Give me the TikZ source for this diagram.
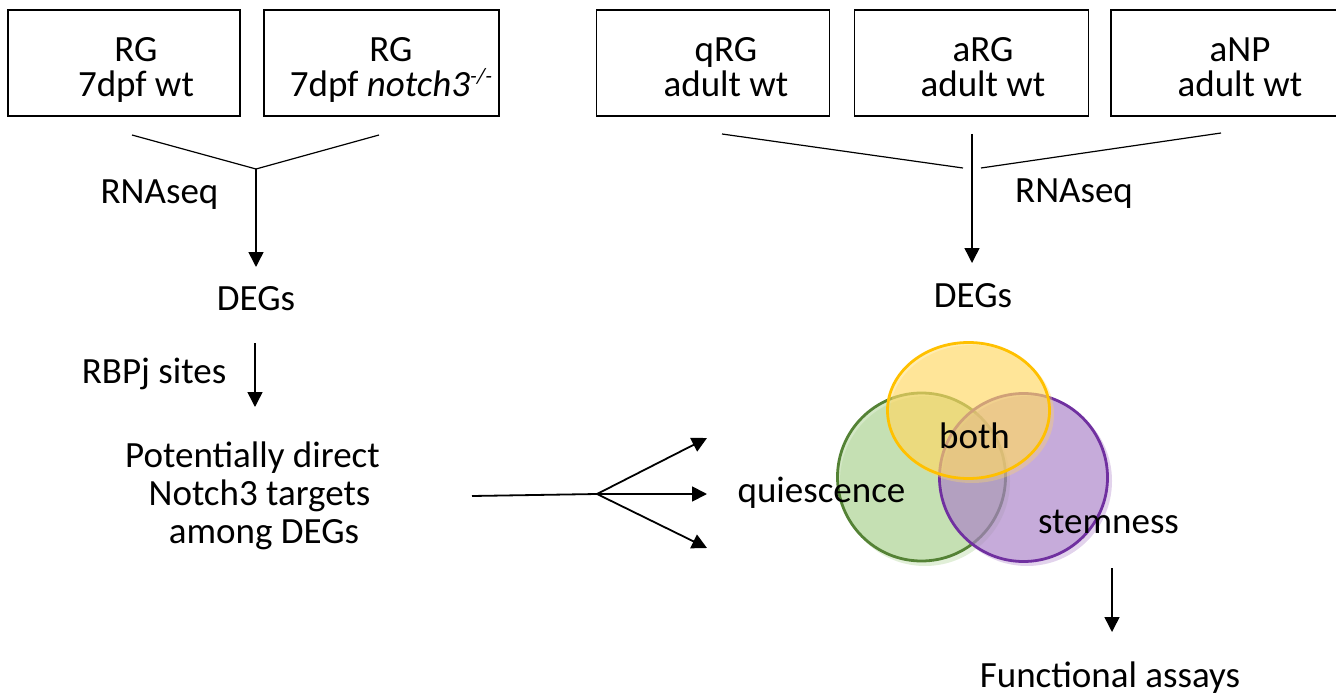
\documentclass[tikz,border=0pt]{standalone}
\usepackage{fontspec}
\setmainfont{Carlito}
\usetikzlibrary{arrows.meta}

\definecolor{vennyellowline}{HTML}{FFC000}
\definecolor{vennyellowfill}{HTML}{FFD966}
\definecolor{venngreenline}{HTML}{548235}
\definecolor{venngreenfill}{HTML}{A9D18E}
\definecolor{vennpurpleline}{HTML}{7030A0}
\definecolor{vennpurplefill}{HTML}{AB82C8}

\tikzset{
  every node/.style={inner sep=0pt, outer sep=0pt},
  txt/.style={anchor=base, font=\fontsize{37}{38}\selectfont},
  boxtxt/.style={anchor=base, align=center, font=\fontsize{37}{35}\selectfont},
  samplebox/.style={draw, line width=1.8pt, minimum width=#1, minimum height=106pt},
  branch/.style={line width=1.2pt},
  flow/.style={line width=1.5pt, -{Triangle[length=15pt,width=15pt]}},
  fan/.style={line width=1.8pt, -{Triangle[length=15pt,width=15pt]}},
  vennset/.style={line width=2.8pt, fill opacity=0.5},
  vennshadow/.style={fill opacity=0.35, draw=none},
}

\begin{document}
\begin{tikzpicture}[x=1pt,y=-1pt]
  \useasboundingbox (0,0) rectangle (1336,698);

  % sample boxes
  \node[samplebox=232pt] (b1) at (124,63) {};
  \node[samplebox=235pt] (b2) at (381.5,63) {};
  \node[samplebox=233pt] (b3) at (713,63) {};
  \node[samplebox=234pt] (b4) at (971.5,63) {};
  \node[samplebox=233pt] (b5) at (1227.5,63) {};

  % two-line labels, anchored on the baseline of the lower line
  \node[boxtxt] (b1t) at (136,97) {RG\\7dpf wt};
  \node[boxtxt] (b2t) at (391,97) {RG\\7dpf \textit{notch3}\raisebox{13pt}{\fontsize{22}{22}\selectfont\textit{-/-}}};
  \node[boxtxt] (b3t) at (726,97) {qRG\\adult wt};
  \node[boxtxt] (b4t) at (983,97) {aRG\\adult wt};
  \node[boxtxt] (b5t) at (1240,97) {aNP\\adult wt};

  % left branch: larval comparison
  \coordinate (lL) at (132,135);
  \coordinate (lJ) at (256,169);
  \coordinate (lR) at (379,135);
  \coordinate (lTip) at (256,267);
  \draw[branch] (lL) -- (lJ) -- (lR);
  \draw[flow] (lJ) -- (lTip);
  \node[txt] (rnaL) at (159.5,203) {RNAseq};
  \node[txt] (degL) at (256,310) {DEGs};

  \coordinate (rbTop) at (255,343);
  \coordinate (rbTip) at (255,407);
  \draw[flow] (rbTop) -- (rbTip);
  \node[txt] (rbpj) at (154,383) {RBPj sites};

  \node[txt] (pot1) at (252.5,467) {Potentially direct};
  \node[txt] (pot2) at (259.5,505) {Notch3 targets};
  \node[txt] (pot3) at (264,543) {among DEGs};

  % fan-out towards the Venn diagram
  \coordinate (f0) at (472,496);
  \coordinate (fJ) at (597,494);
  \coordinate (fUp) at (707,438);
  \coordinate (fMid) at (707,494);
  \coordinate (fLow) at (707,548);
  \draw[line width=1.8pt] (f0) -- (fJ);
  \draw[fan] (fJ) -- (fUp);
  \draw[fan] (fJ) -- (fMid);
  \draw[fan] (fJ) -- (fLow);

  % right branch: adult comparison
  \coordinate (rL) at (722,134);
  \coordinate (rLJ) at (963,168);
  \coordinate (rRJ) at (981,168);
  \coordinate (rR) at (1221,133);
  \coordinate (rTop) at (972,134);
  \coordinate (rTip) at (972,263);
  \draw[branch] (rL) -- (rLJ);
  \draw[branch] (rRJ) -- (rR);
  \draw[flow] (rTop) -- (rTip);
  \node[txt] (rnaR) at (1074,202) {RNAseq};
  \node[txt] (degR) at (973,307) {DEGs};

  % Venn diagram
  \fill[venngreenfill, vennshadow] (925,481) circle[radius=85];
  \draw[vennset, draw=venngreenline, fill=venngreenfill] (921.5,477) circle[radius=84];
  \fill[vennpurplefill, vennshadow] (1027,481) circle[radius=85];
  \draw[vennset, draw=vennpurpleline, fill=vennpurplefill] (1023.5,477.5) circle[radius=84];
  \fill[vennyellowfill, vennshadow] (972,414) ellipse[x radius=82, y radius=69];
  \draw[vennset, draw=vennyellowline, fill=vennyellowfill] (968.5,410.5) ellipse[x radius=81, y radius=68];

  \node[txt] (both) at (974.5,448) {both};
  \node[txt] (quies) at (821.5,502) {quiescence};
  \node[txt] (stem) at (1108.5,533) {stemness};

  \coordinate (aTop) at (1112,568);
  \coordinate (aTip) at (1112,632);
  \draw[flow] (aTop) -- (aTip);
  \node[txt] (func) at (1110,687) {Functional assays};
\end{tikzpicture}
\end{document}
